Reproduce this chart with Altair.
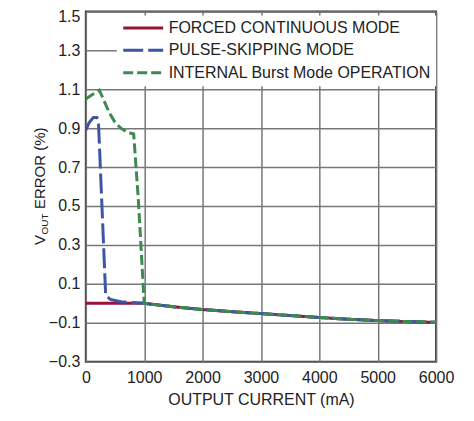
import altair as alt
import pandas as pd

FONT = "Liberation Sans, Arial, sans-serif"

modes = ["FORCED CONTINUOUS MODE", "PULSE-SKIPPING MODE", "INTERNAL Burst Mode OPERATION"]
colors = ["#9b1236", "#3c55a5", "#3b8a50"]
dashes = [[1, 0], [20, 5], [10, 4]]

# Forced continuous mode
fc_current = [0, 500, 1000, 1500, 2000, 2500, 3000, 3500, 4000, 4500, 5000, 5500, 6000]
fc_error = [0.0, 0.0, 0.0, -0.018, -0.032, -0.043, -0.053, -0.063, -0.073, -0.082, -0.089, -0.094, -0.098]

# Pulse-skipping mode
ps_current = [0, 60, 130, 190, 215, 340, 420, 600, 1000, 1500, 2000, 2500, 3000, 3500, 4000, 4500, 5000, 5500, 6000]
ps_error = [0.89, 0.93, 0.955, 0.955, 0.94, 0.04, 0.02, 0.008, 0.0, -0.018, -0.032, -0.043, -0.053, -0.063, -0.073, -0.082, -0.089, -0.094, -0.098]

# Internal Burst Mode operation
bm_current = [0, 100, 230, 300, 400, 500, 600, 700, 820, 900, 1000, 1500, 2000, 2500, 3000, 3500, 4000, 4500, 5000, 5500, 6000]
bm_error = [1.05, 1.07, 1.095, 1.05, 0.98, 0.93, 0.9, 0.88, 0.87, 0.53, 0.0, -0.018, -0.032, -0.043, -0.053, -0.063, -0.073, -0.082, -0.089, -0.094, -0.098]

x_ticks = [0, 1000, 2000, 3000, 4000, 5000, 6000]
y_ticks = [-0.3, -0.1, 0.1, 0.3, 0.5, 0.7, 0.9, 1.1, 1.3, 1.5]

rows = []
for m, xs, ys in [(modes[0], fc_current, fc_error), (modes[1], ps_current, ps_error), (modes[2], bm_current, bm_error)]:
    for i, (a, b) in enumerate(zip(xs, ys)):
        rows.append({"mode": m, "current": a, "error": b, "idx": i})
df = pd.DataFrame(rows)
one = pd.DataFrame({"k": [0]})

legend = alt.Legend(title=None, orient="none", legendX=36, legendY=5)

# white patch behind the legend (hides grid lines there)
legend_bg = alt.Chart(one).mark_rect(color="white").encode(
    x=alt.value(31), x2=alt.value(351), y=alt.value(4), y2=alt.value(75))

lines = alt.Chart(df).mark_line(strokeWidth=3, clip=True).encode(
    x=alt.X("current:Q", scale=alt.Scale(domain=[0, 6000], nice=False),
            axis=alt.Axis(values=x_ticks, title="OUTPUT CURRENT (mA)", format="d",
                          labelFlush=False, labelPadding=8, titlePadding=6, ticks=False, domain=False)),
    y=alt.Y("error:Q", scale=alt.Scale(domain=[-0.3, 1.5], nice=False, zero=False),
            axis=alt.Axis(values=y_ticks, title=None, format=".1f",
                          labelExpr="replace(datum.label, '-', '\u2013')",
                          labelFlush=False,
                          labelOffset={"condition": {"test": "datum.value > 1.45", "value": 5}, "value": 0},
                          labelPadding=6, ticks=False, domain=False)),
    color=alt.Color("mode:N", scale=alt.Scale(domain=modes, range=colors), legend=legend),
    strokeDash=alt.StrokeDash("mode:N", scale=alt.Scale(domain=modes, range=dashes), legend=legend),
    order="idx:Q",
)

ytitle_v = alt.Chart(one).mark_text(text="V", angle=270, align="left", baseline="alphabetic",
                                    font=FONT, fontSize=15, fontWeight="normal", color="#222").encode(
    x=alt.value(-41), y=alt.value(234))
ytitle_out = alt.Chart(one).mark_text(text="OUT", angle=270, align="left", baseline="alphabetic",
                                      font=FONT, fontSize=10, fontWeight="normal", color="#222").encode(
    x=alt.value(-38), y=alt.value(223.5))
ytitle_rest = alt.Chart(one).mark_text(text="ERROR (%)", angle=270, align="left", baseline="alphabetic",
                                       font=FONT, fontSize=15, fontWeight="normal", color="#222").encode(
    x=alt.value(-41), y=alt.value(198))

chart = alt.layer(legend_bg, lines, ytitle_v, ytitle_out, ytitle_rest).properties(
    width=351, height=351,
    autosize=alt.AutoSizeParams(type="none"),
    padding={"left": 78, "top": 3, "right": 30, "bottom": 50},
).configure(font=FONT).configure_view(
    stroke="#333", strokeWidth=2
).configure_axis(
    grid=True, gridColor="#777", gridWidth=1.5,
    labelFont=FONT, labelFontSize=16, labelColor="#222",
    titleFont=FONT, titleFontSize=16, titleColor="#222", titleFontWeight="normal",
).configure_legend(
    padding=0, labelFont=FONT, labelFontSize=16, labelColor="#222",
    symbolType="M-2,0H2", symbolSize=400, symbolStrokeWidth=3, symbolFillColor="transparent",
    symbolOffset=10, rowPadding=2.5,
    labelOffset=14, labelLimit=400,
)

chart.save("out.html", embed_options={"renderer": "svg", "actions": False})
